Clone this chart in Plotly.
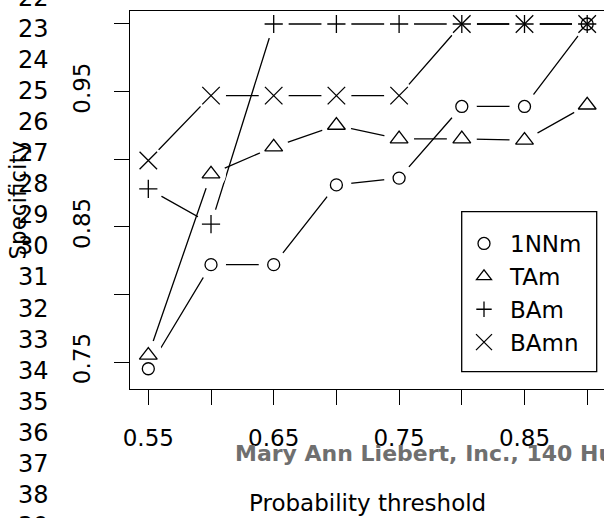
import plotly.graph_objects as go

# Specificity of each classifier across probability thresholds
thresholds = [0.55, 0.60, 0.65, 0.70, 0.75, 0.80, 0.85, 0.90]
spec_1nnm = [0.745, 0.822, 0.822, 0.881, 0.886, 0.939, 0.939, 1.000]
spec_tam = [0.755, 0.889, 0.909, 0.925, 0.915, 0.915, 0.914, 0.940]
spec_bam = [0.878, 0.852, 1.000, 1.000, 1.000, 1.000, 1.000, 1.000]
spec_bamn = [0.899, 0.947, 0.947, 0.947, 0.947, 1.000, 1.000, 1.000]

series_names = ["1NNm", "TAm", "BAm", "BAmn"]
series_values = [spec_1nnm, spec_tam, spec_bam, spec_bamn]

x_ticks = [0.55, 0.60, 0.65, 0.70, 0.75, 0.80, 0.85, 0.90]
x_tick_labels = ["0.55", "", "0.65", "", "0.75", "", "0.85", ""]
y_ticks = [0.75, 0.80, 0.85, 0.90, 0.95, 1.00]
y_tick_labels = ["0.75", "", "0.85", "", "0.95", ""]

# manuscript line numbers printed down the left margin
line_numbers = ["22", "23", "24", "25", "26", "27", "28", "29", "30",
                "31", "32", "33", "34", "35", "36", "37", "38", "39"]
publisher_text = "Mary Ann Liebert, Inc., 140 Hu"

# marker styling per series (plot symbols and smaller legend keys)
symbols = ["circle-open", "triangle-up-open", "cross-thin-open", "x-thin-open"]
sizes = [12, 15.5, 13, 17.5]
legend_sizes = [12, 13, 11, 16]

W, H = 604, 518
ML, MR, MT, MB = 130, 0, 11, 129
PW, PH = W - ML - MR, H - MT - MB
FONT = "DejaVu Sans"
INK = "black"


def xp(px):
    return (px - ML) / PW


def yp(py):
    return (H - MB - py) / PH


fig = go.Figure()

# connecting lines
for vals in series_values:
    fig.add_trace(go.Scatter(
        x=thresholds, y=vals, mode="lines",
        line=dict(color=INK, width=1.3),
        showlegend=False, hoverinfo="skip"))

# white discs open a gap in the lines around each point
for vals in series_values:
    fig.add_trace(go.Scatter(
        x=thresholds, y=vals, mode="markers",
        marker=dict(symbol="circle", size=30, color="white", line=dict(width=0)),
        showlegend=False, hoverinfo="skip"))

# point symbols
for name, vals, sym, sz in zip(series_names, series_values, symbols, sizes):
    fig.add_trace(go.Scatter(
        x=thresholds, y=vals, mode="markers", name=name, legendgroup=name,
        marker=dict(symbol=sym, size=sz, color=INK,
                    line=dict(color=INK, width=1.3)),
        showlegend=False))

# legend keys
for name, sym, sz in zip(series_names, symbols, legend_sizes):
    fig.add_trace(go.Scatter(
        x=[None], y=[None], mode="markers", name=name, legendgroup=name,
        marker=dict(symbol=sym, size=sz, color=INK,
                    line=dict(color=INK, width=1.3)),
        showlegend=True))

axis_common = dict(
    showgrid=False, zeroline=False, showline=True, linecolor=INK, linewidth=1.3,
    ticks="outside", ticklen=15, tickwidth=1.3, tickcolor=INK,
    tickfont=dict(family=FONT, size=23, color=INK),
)

fig.update_xaxes(range=[0.5354, 0.9134], tickvals=x_ticks, ticktext=x_tick_labels,
                 mirror=True, ticklabelstandoff=13, **axis_common)
fig.update_yaxes(range=[0.73003, 1.0096], tickvals=y_ticks, ticktext=y_tick_labels,
                 tickangle=-90, mirror=False, ticklabelstandoff=15, **axis_common)

annotations = [
    dict(text="Probability threshold", x=xp(367.5), y=yp(503), xref="paper", yref="paper",
         xanchor="center", yanchor="middle", showarrow=False,
         font=dict(family=FONT, size=23, color=INK)),
    dict(text="Specificity", x=xp(17.5), y=yp(200), xref="paper", yref="paper",
         xanchor="center", yanchor="middle", textangle=-90, showarrow=False,
         font=dict(family=FONT, size=23, color=INK)),
    dict(text=publisher_text, x=xp(233), y=yp(454), xref="paper", yref="paper",
         xanchor="left", yanchor="middle", showarrow=False,
         font=dict(family=FONT, size=22, color="#6f6f6f", weight="bold")),
]
for i, num in enumerate(line_numbers):
    annotations.append(dict(
        text=num, x=xp(51), y=yp(-2.4 + i * 31.09), xref="paper", yref="paper",
        xanchor="right", yanchor="middle", showarrow=False,
        font=dict(family=FONT, size=24, color=INK)))

fig.update_layout(
    width=W, height=H,
    margin=dict(l=ML, r=MR, t=MT, b=MB, pad=0),
    paper_bgcolor="white", plot_bgcolor="white",
    showlegend=True,
    legend=dict(x=xp(458), y=yp(222), xanchor="left", yanchor="top",
                itemwidth=42, tracegroupgap=0,
                bgcolor="rgba(0,0,0,0)", borderwidth=0,
                font=dict(family=FONT, size=23, color=INK)),
    shapes=[dict(type="rect", xref="paper", yref="paper",
                 x0=xp(461.7), x1=xp(596.7), y0=yp(371.7), y1=yp(211.7),
                 line=dict(color=INK, width=1.3))],
    annotations=annotations,
)

fig.write_html("out.html")
